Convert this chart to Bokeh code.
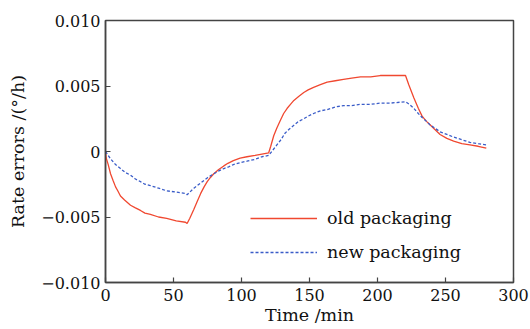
from bokeh.plotting import figure
from bokeh.models import FixedTicker, Range1d, Legend, LegendItem
from bokeh.embed import file_html
from bokeh.resources import INLINE

# Data
time_old = [0, 0.5, 2, 3.7, 5.5, 7.4, 9, 11, 14, 18.4, 22, 25.7, 29, 33, 39, 45, 52, 58.8, 60,
            62, 65, 67.5, 70, 72.5, 74.8, 77, 79.6, 83, 87, 90, 94, 99, 104, 110, 115, 120,
            121.5, 123.7, 126, 128.7, 131, 133.6, 136, 138.5, 142, 145.8, 149, 153, 158, 163,
            169, 175, 181, 187.5, 195, 202, 210, 220.6,
            223, 226.7, 230, 232.8, 236, 239, 242, 246, 251, 256, 262, 268, 274, 280]
err_old = [0, -0.0005, -0.0010, -0.0017, -0.0022, -0.0027, -0.0030, -0.0034, -0.0037, -0.0041, -0.0043, -0.0045, -0.0047, -0.0048, -0.0050, -0.0051, -0.0053, -0.0054, -0.0055,
           -0.0051, -0.0044, -0.0038, -0.0032, -0.0027, -0.0023, -0.0020, -0.0017, -0.0014, -0.0011, -0.0009, -0.0007, -0.0005, -0.0004, -0.0003, -0.0002, -0.0001,
           0.0004, 0.0012, 0.0018, 0.0024, 0.0029, 0.0033, 0.0036, 0.0039, 0.0042, 0.0045, 0.0047, 0.0049, 0.0051, 0.0053,
           0.0054, 0.0055, 0.0056, 0.0057, 0.0057, 0.0058, 0.0058, 0.0058,
           0.0051, 0.0041, 0.0033, 0.0027, 0.0023, 0.0020, 0.0017, 0.0013, 0.0010, 0.0008, 0.0006, 0.0005, 0.0004, 0.00025]

time_new = [0, 3.7, 7.4, 11, 14.5, 18.4, 22, 25.7, 29, 33, 39, 45, 52, 58.8, 60,
            65, 70, 75, 79.6, 83, 87, 90, 94, 99, 104, 110, 115, 120,
            123, 126, 129, 132, 135, 138.5, 142, 145.8, 149, 153, 158, 163, 169, 175, 181, 187.5, 195, 202, 210, 220.6,
            223.5, 226.7, 230, 232.8, 236, 239, 242, 246, 251, 256, 262, 268, 274, 280.6]
err_new = [0, -0.00056, -0.0010, -0.0013, -0.0016, -0.0018, -0.0021, -0.0023, -0.0025, -0.0026, -0.0028, -0.0030, -0.0031, -0.0032, -0.0033,
           -0.0028, -0.0024, -0.0020, -0.0017, -0.0015, -0.0013, -0.0012, -0.0010, -0.00085, -0.00074, -0.0006, -0.0004, -0.0003,
           0.0001, 0.0005, 0.0009, 0.0014, 0.0017, 0.0020, 0.0023, 0.0025, 0.0027, 0.0029, 0.0031, 0.0032, 0.0034, 0.0035, 0.0035, 0.0036, 0.0036, 0.0037, 0.0037, 0.0038,
           0.0036, 0.0033, 0.0029, 0.0026, 0.0023, 0.0020, 0.0018, 0.0015, 0.0013, 0.0011, 0.0009, 0.0007, 0.0006, 0.0005]

x_ticks = [0, 50, 100, 150, 200, 250, 300]
y_ticks = [-0.01, -0.005, 0, 0.005, 0.01]
y_tick_labels = ["\u22120.010", "\u22120.005", "0", "0.005", "0.010"]

FONT = "DejaVu Serif"
AXC = "#444444"
TXT = "#111111"

p = figure(width=530, height=329, output_backend="svg", toolbar_location=None,
           x_range=Range1d(0, 300), y_range=Range1d(-0.01, 0.01),
           min_border_left=105, min_border_right=17, min_border_top=20, min_border_bottom=47)
p.grid.visible = False
p.background_fill_color = "white"
p.border_fill_color = "white"
p.outline_line_color = AXC
p.outline_line_width = 1.5

r_old = p.line(time_old, err_old, line_color="#f04830", line_width=1.3)
r_new = p.line(time_new, err_new, line_color="#3a5cc8", line_width=1.3, line_dash="3 2")

for ax in (p.xaxis[0], p.yaxis[0]):
    ax.axis_line_color = AXC
    ax.axis_line_width = 1.5
    ax.major_tick_line_color = AXC
    ax.major_tick_line_width = 1.2
    ax.major_tick_in = 5
    ax.major_tick_out = 0
    ax.minor_tick_line_color = None
    ax.major_label_text_font = FONT
    ax.major_label_text_font_size = "16px"
    ax.major_label_text_color = TXT
    ax.axis_label_text_font = FONT
    ax.axis_label_text_font_size = "17.5px"
    ax.axis_label_text_font_style = "normal"
    ax.axis_label_text_color = TXT

p.xaxis.ticker = FixedTicker(ticks=x_ticks)
p.yaxis.ticker = FixedTicker(ticks=y_ticks)
p.yaxis.major_label_overrides = {t: l for t, l in zip(y_ticks, y_tick_labels)}
p.xaxis.axis_label = "Time /min"
p.yaxis.axis_label = "Rate errors /(\u00b0/h)"
p.xaxis.major_label_standoff = 6
p.xaxis.axis_label_standoff = 1
p.yaxis.major_label_standoff = 5
p.yaxis.axis_label_standoff = 10

legend = Legend(items=[LegendItem(label="old packaging", renderers=[r_old]),
                       LegendItem(label="new packaging", renderers=[r_new])],
                location=(145, 20), border_line_color=None, background_fill_alpha=0,
                margin=0, padding=0, spacing=14, glyph_width=67, glyph_height=20,
                label_height=20, label_standoff=10,
                label_text_font=FONT, label_text_font_size="17.5px", label_text_color=TXT)
p.add_layout(legend, "center")

open("out.html", "w").write(file_html(p, INLINE))
